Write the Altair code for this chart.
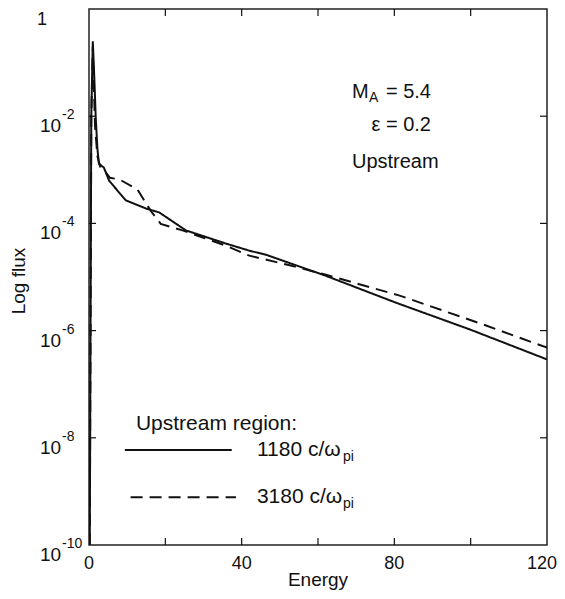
import altair as alt
import pandas as pd

# ---- data ----
energy_solid = [0.2, 0.6, 1.0, 1.4, 1.75, 2.2, 2.6, 3.9, 5.25, 9.6, 14.9, 18.4,
                25.4, 35.9, 42.0, 46.4, 62.1, 80.5, 99.8, 120.0]
flux_solid = [1e-10, 1e-2, 2.5e-1, 5e-2, 1e-2, 2.5e-3, 1.3e-3, 1.1e-3, 6.3e-4,
              2.7e-4, 1.9e-4, 1.6e-4, 7.4e-5, 4.2e-5, 3.1e-5, 2.6e-5, 1.05e-5,
              3.3e-6, 1.05e-6, 2.9e-7]

energy_dashed = [0.2, 0.6, 1.0, 1.3, 1.6, 2.2, 3.0, 4.4, 5.5, 8.0, 12.7, 16.2,
                 18.8, 24.5, 30.0, 36.0, 42.0, 53.4, 62.1, 81.4, 103.3, 120.0]
flux_dashed = [1e-10, 1e-2, 2e-1, 3.2e-2, 6.3e-3, 1.8e-3, 1.1e-3, 8.9e-4, 7.1e-4,
               6.6e-4, 4.3e-4, 1.7e-4, 9.8e-5, 7.4e-5, 5.4e-5, 3.8e-5, 2.5e-5,
               1.6e-5, 1.1e-5, 4.5e-6, 1.3e-6, 4.8e-7]

series_names = ["1180", "3180"]
x_label_values = [0, 40, 80]
x_label_texts = ["0", "40", "80"]
x_last_value, x_last_text = 120, "120"
x_tick_values = [20, 40, 60, 80, 100]
y_tick_values = [1e-2, 1e-4, 1e-6, 1e-8]
y_label_values = [1e-2, 1e-4, 1e-6, 1e-8, 1e-10]
y_label_exps = ["-2", "-4", "-6", "-8", "-10"]
x_title = "Energy"
y_title = "Log flux"

legend_title = "Upstream region:"
legend_x = [9.4, 10.9]
legend_x2 = [37.4, 38.5]
legend_y = [5.9e-9, 7.8e-10]
legend_labels = ["1180 c/ω", "3180 c/ω"]
legend_text_x = 44.0
legend_title_pos = (12.3, 1.8e-8)

ann_left_x = 68.9
ann_right_x = 89.6
ann_y = [0.0288, 6.8e-3, 1.41e-3]

# ---- styling ----
W, H = 458, 536
FONT = "Liberation Sans"
INK = "#111111"
FS = 20
FS_LEG = 21
DASH = [12, 7]

xscale = alt.Scale(domain=[0, 120], nice=False, zero=False)
yscale = alt.Scale(type="log", domain=[1e-10, 1], nice=False)


def X(field):
    return alt.X(field, scale=xscale, axis=None)


def Y(field):
    return alt.Y(field, scale=yscale, axis=None)


def txt(**kw):
    base = dict(font=FONT, color=INK)
    base.update(kw)
    return base


df_lines = pd.DataFrame({
    "energy": energy_solid + energy_dashed,
    "flux": flux_solid + flux_dashed,
    "series": [series_names[0]] * len(energy_solid) + [series_names[1]] * len(energy_dashed),
})

lines = alt.Chart(df_lines).mark_line(color=INK, strokeWidth=2, clip=True).encode(
    x=X("energy:Q"),
    y=Y("flux:Q"),
    strokeDash=alt.StrokeDash("series:N",
                              scale=alt.Scale(domain=series_names, range=[[1, 0], DASH]),
                              legend=None),
)

xt = pd.DataFrame({"energy": x_tick_values})
yt = pd.DataFrame({"flux": y_tick_values})
tick_style = dict(color=INK, strokeWidth=1.2)
bottom_ticks = alt.Chart(xt).mark_rule(**tick_style).encode(
    x=X("energy:Q"), y=alt.value(H), y2=alt.value(H - 7))
top_ticks = alt.Chart(xt).mark_rule(**tick_style).encode(
    x=X("energy:Q"), y=alt.value(0), y2=alt.value(7))
left_ticks = alt.Chart(yt).mark_rule(**tick_style).encode(
    y=Y("flux:Q"), x=alt.value(0), x2=alt.value(7))
right_ticks = alt.Chart(yt).mark_rule(**tick_style).encode(
    y=Y("flux:Q"), x=alt.value(W - 7), x2=alt.value(W))

# x tick labels and title
xlab = pd.DataFrame({"energy": x_label_values, "t": x_label_texts})
x_labels = alt.Chart(xlab).mark_text(**txt(align="center", baseline="alphabetic",
                                           fontSize=18, dy=24)).encode(
    x=X("energy:Q"), y=alt.value(H), text="t:N")
x_last = alt.Chart(pd.DataFrame({"energy": [x_last_value], "t": [x_last_text]})).mark_text(
    **txt(align="center", baseline="alphabetic", fontSize=18, dy=24, dx=-5)).encode(
    x=X("energy:Q"), y=alt.value(H), text="t:N")
x_title_t = alt.Chart(pd.DataFrame({"t": [x_title]})).mark_text(
    **txt(align="center", baseline="alphabetic", fontSize=19)).encode(
    x=alt.value(W / 2), y=alt.value(H + 41), text="t:N")

# y tick labels (10 with superscript exponent)
ylab = pd.DataFrame({"flux": y_label_values, "base": ["10"] * len(y_label_values),
                     "exp": y_label_exps})
y_base = alt.Chart(ylab).mark_text(**txt(align="left", baseline="alphabetic",
                                         fontSize=19, dy=16)).encode(
    y=Y("flux:Q"), x=alt.value(-49), text="base:N")
y_exp = alt.Chart(ylab).mark_text(**txt(align="left", baseline="alphabetic",
                                        fontSize=14, dy=3)).encode(
    y=Y("flux:Q"), x=alt.value(-27), text="exp:N")
one = alt.Chart(pd.DataFrame({"flux": [1.0], "t": ["1"]})).mark_text(
    **txt(align="left", baseline="alphabetic", fontSize=18, dy=16)).encode(
    y=Y("flux:Q"), x=alt.value(-52), text="t:N")

ytitle = alt.Chart(pd.DataFrame({"t": [y_title]})).mark_text(
    **txt(angle=270, align="center", baseline="middle", fontSize=19)).encode(
    x=alt.value(-70), y=alt.value(272), text="t:N")

# annotations
ann_m = alt.Chart(pd.DataFrame({"energy": [ann_left_x, ann_left_x], "flux": [ann_y[0], ann_y[2]],
                                "t": ["M", "Upstream"]})).mark_text(
    **txt(align="left", baseline="middle", fontSize=FS)).encode(
    x=X("energy:Q"), y=Y("flux:Q"), text="t:N")
ann_sub = alt.Chart(pd.DataFrame({"energy": [ann_left_x], "flux": [ann_y[0]], "t": ["A"]})).mark_text(
    **txt(align="left", baseline="middle", fontSize=14, dx=17, dy=6)).encode(
    x=X("energy:Q"), y=Y("flux:Q"), text="t:N")
ann_right = alt.Chart(pd.DataFrame({"energy": [ann_right_x, ann_right_x],
                                    "flux": [ann_y[0], ann_y[1]],
                                    "t": ["= 5.4", "ε = 0.2"]})).mark_text(
    **txt(align="right", baseline="middle", fontSize=FS)).encode(
    x=X("energy:Q"), y=Y("flux:Q"), text="t:N")

# legend
leg = pd.DataFrame({"x": legend_x, "x2": legend_x2, "flux": legend_y, "series": series_names,
                    "label": legend_labels, "lx": [legend_text_x] * 2, "sub": ["pi", "pi"]})
leg_lines = alt.Chart(leg).mark_rule(color=INK, strokeWidth=2).encode(
    x=X("x:Q"), x2="x2:Q", y=Y("flux:Q"),
    strokeDash=alt.StrokeDash("series:N",
                              scale=alt.Scale(domain=series_names, range=[[1, 0], DASH]),
                              legend=None))
leg_text = alt.Chart(leg).mark_text(**txt(align="left", baseline="middle", fontSize=FS_LEG)).encode(
    x=X("lx:Q"), y=Y("flux:Q"), text="label:N")
leg_sub = alt.Chart(leg).mark_text(**txt(align="left", baseline="middle", fontSize=14,
                                         dx=86, dy=7)).encode(
    x=X("lx:Q"), y=Y("flux:Q"), text="sub:N")
leg_title = alt.Chart(pd.DataFrame({"energy": [legend_title_pos[0]], "flux": [legend_title_pos[1]],
                                    "t": [legend_title]})).mark_text(
    **txt(align="left", baseline="middle", fontSize=FS_LEG)).encode(
    x=X("energy:Q"), y=Y("flux:Q"), text="t:N")

chart = alt.layer(
    lines, bottom_ticks, top_ticks, left_ticks, right_ticks,
    x_labels, x_last, x_title_t, y_base, y_exp, one, ytitle,
    ann_m, ann_sub, ann_right,
    leg_lines, leg_text, leg_sub, leg_title,
).properties(
    width=W, height=H,
    autosize=alt.AutoSizeParams(type="none"),
    padding={"left": 81, "top": 1, "right": 10, "bottom": 46},
    background="white",
).configure_view(stroke="#222222", strokeWidth=1.5)

chart.save("out.html", embed_options={"renderer": "svg", "actions": False})
